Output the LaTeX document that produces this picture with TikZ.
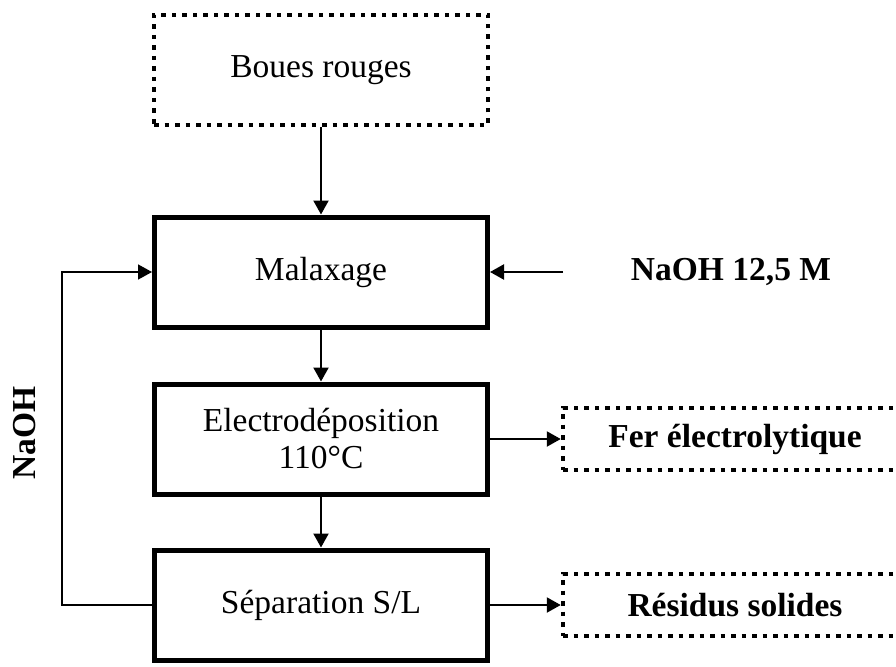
\documentclass[tikz,border=0pt]{standalone}
\usepackage{fontspec}
\setmainfont{Liberation Serif}
\usetikzlibrary{arrows.meta}
\newcommand\taille{\fontsize{33.5}{37}\selectfont}
\begin{document}
\begin{tikzpicture}[x=1pt,y=-1pt,
    etape/.style={draw,line width=5pt,minimum width=333pt,minimum height=110pt,inner sep=0pt,align=center,font=\taille},
    pointille/.style={draw,line width=4.5pt,dash pattern=on 4.5pt off 6pt,inner sep=0pt,font=\taille},
    produit/.style={pointille,minimum width=344pt,minimum height=62pt,font=\taille\bfseries},
    fleche/.style={line width=2.2pt,-{Triangle[length=14pt,width=15pt]}}]
  \useasboundingbox (0,0) rectangle (896,666);
  \clip (0,0) rectangle (896,666);
  \node[pointille,minimum width=334pt,minimum height=110pt] (BR) at (321,70) {Boues rouges};
  \node[etape] (MX) at (321,272) {Malaxage};
  \node[etape] (ED) at (321,439) {Electrodéposition\\110°C};
  \node[etape] (SP) at (321,605) {Séparation S/L};
  \node[produit] (FE) at (735,439) {Fer électrolytique};
  \node[produit] (RS) at (735,605) {Résidus solides};
  \node[font=\taille\bfseries] (NA) at (731,272) {NaOH 12,5 M};
  \coordinate (ajout) at (563,272);
  \node[rotate=90,font=\taille\bfseries] (RC) at (25,433) {NaOH};
  \draw[fleche] (BR) -- (MX);
  \draw[fleche] (MX) -- (ED);
  \draw[fleche] (ED) -- (SP);
  \draw[fleche] (ED) -- (FE);
  \draw[fleche] (SP) -- (RS);
  \draw[fleche] (ajout) -- (MX);
  \draw[fleche,line width=1.6pt] (SP.west) -- ++(-90,0) |- (MX.west);
\end{tikzpicture}
\end{document}
